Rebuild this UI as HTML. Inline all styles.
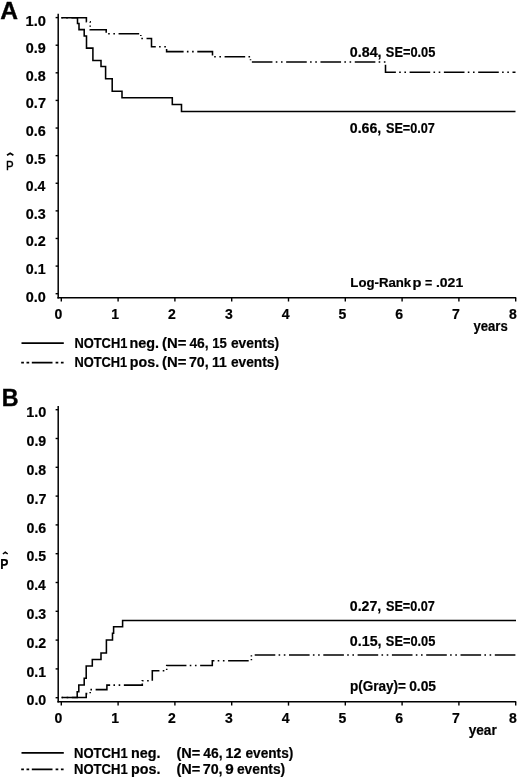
<!DOCTYPE html>
<html><head><meta charset="utf-8"><style>
html,body{margin:0;padding:0;background:#fff;}
body{width:520px;height:778px;overflow:hidden;}
svg{display:block;font-family:"Liberation Sans",sans-serif;will-change:transform;}
</style></head><body>
<svg width="520" height="778" viewBox="0 0 520 778">
<rect width="520" height="778" fill="#fff"/>
<g>
<line x1="58.2" y1="13.8" x2="58.2" y2="298.4" stroke="#000" stroke-width="1.5"/>
<line x1="57.400000000000006" y1="297.7" x2="516.2" y2="297.7" stroke="#000" stroke-width="1.5"/>
<line x1="55.6" y1="17.60" x2="58.2" y2="17.60" stroke="#000" stroke-width="1.4"/>
<text x="25.47" y="25.5" font-size="14" font-weight="bold" text-anchor="start" textLength="20.43" lengthAdjust="spacingAndGlyphs" stroke="#000" stroke-width="0.2">1.0</text>
<line x1="55.6" y1="45.21" x2="58.2" y2="45.21" stroke="#000" stroke-width="1.4"/>
<text x="25.83" y="53.11" font-size="14" font-weight="bold" text-anchor="start" textLength="20.0" lengthAdjust="spacingAndGlyphs" stroke="#000" stroke-width="0.2">0.9</text>
<line x1="55.6" y1="72.82" x2="58.2" y2="72.82" stroke="#000" stroke-width="1.4"/>
<text x="25.83" y="80.72" font-size="14" font-weight="bold" text-anchor="start" textLength="19.91" lengthAdjust="spacingAndGlyphs" stroke="#000" stroke-width="0.2">0.8</text>
<line x1="55.6" y1="100.43" x2="58.2" y2="100.43" stroke="#000" stroke-width="1.4"/>
<text x="25.83" y="108.33" font-size="14" font-weight="bold" text-anchor="start" textLength="20.11" lengthAdjust="spacingAndGlyphs" stroke="#000" stroke-width="0.2">0.7</text>
<line x1="55.6" y1="128.04" x2="58.2" y2="128.04" stroke="#000" stroke-width="1.4"/>
<text x="25.83" y="135.94" font-size="14" font-weight="bold" text-anchor="start" textLength="19.99" lengthAdjust="spacingAndGlyphs" stroke="#000" stroke-width="0.2">0.6</text>
<line x1="55.6" y1="155.65" x2="58.2" y2="155.65" stroke="#000" stroke-width="1.4"/>
<text x="25.83" y="163.55" font-size="14" font-weight="bold" text-anchor="start" textLength="19.86" lengthAdjust="spacingAndGlyphs" stroke="#000" stroke-width="0.2">0.5</text>
<line x1="55.6" y1="183.26" x2="58.2" y2="183.26" stroke="#000" stroke-width="1.4"/>
<text x="25.84" y="191.16" font-size="14" font-weight="bold" text-anchor="start" textLength="19.53" lengthAdjust="spacingAndGlyphs" stroke="#000" stroke-width="0.2">0.4</text>
<line x1="55.6" y1="210.87" x2="58.2" y2="210.87" stroke="#000" stroke-width="1.4"/>
<text x="25.83" y="218.77" font-size="14" font-weight="bold" text-anchor="start" textLength="19.99" lengthAdjust="spacingAndGlyphs" stroke="#000" stroke-width="0.2">0.3</text>
<line x1="55.6" y1="238.48" x2="58.2" y2="238.48" stroke="#000" stroke-width="1.4"/>
<text x="25.83" y="246.38" font-size="14" font-weight="bold" text-anchor="start" textLength="20.05" lengthAdjust="spacingAndGlyphs" stroke="#000" stroke-width="0.2">0.2</text>
<line x1="55.6" y1="266.09" x2="58.2" y2="266.09" stroke="#000" stroke-width="1.4"/>
<text x="25.83" y="273.99" font-size="14" font-weight="bold" text-anchor="start" textLength="19.86" lengthAdjust="spacingAndGlyphs" stroke="#000" stroke-width="0.2">0.1</text>
<line x1="55.6" y1="293.70" x2="58.2" y2="293.70" stroke="#000" stroke-width="1.4"/>
<text x="25.83" y="301.6" font-size="14" font-weight="bold" text-anchor="start" textLength="20.06" lengthAdjust="spacingAndGlyphs" stroke="#000" stroke-width="0.2">0.0</text>
<line x1="61.30" y1="297.7" x2="61.30" y2="301.5" stroke="#000" stroke-width="1.4"/>
<text x="62.30" y="319.10" font-size="14" font-weight="bold" text-anchor="end" stroke="#000" stroke-width="0.2">0</text>
<line x1="118.10" y1="297.7" x2="118.10" y2="301.5" stroke="#000" stroke-width="1.4"/>
<text x="119.10" y="319.10" font-size="14" font-weight="bold" text-anchor="end" stroke="#000" stroke-width="0.2">1</text>
<line x1="174.90" y1="297.7" x2="174.90" y2="301.5" stroke="#000" stroke-width="1.4"/>
<text x="175.90" y="319.10" font-size="14" font-weight="bold" text-anchor="end" stroke="#000" stroke-width="0.2">2</text>
<line x1="231.70" y1="297.7" x2="231.70" y2="301.5" stroke="#000" stroke-width="1.4"/>
<text x="232.70" y="319.10" font-size="14" font-weight="bold" text-anchor="end" stroke="#000" stroke-width="0.2">3</text>
<line x1="288.50" y1="297.7" x2="288.50" y2="301.5" stroke="#000" stroke-width="1.4"/>
<text x="289.50" y="319.10" font-size="14" font-weight="bold" text-anchor="end" stroke="#000" stroke-width="0.2">4</text>
<line x1="345.30" y1="297.7" x2="345.30" y2="301.5" stroke="#000" stroke-width="1.4"/>
<text x="346.30" y="319.10" font-size="14" font-weight="bold" text-anchor="end" stroke="#000" stroke-width="0.2">5</text>
<line x1="402.10" y1="297.7" x2="402.10" y2="301.5" stroke="#000" stroke-width="1.4"/>
<text x="403.10" y="319.10" font-size="14" font-weight="bold" text-anchor="end" stroke="#000" stroke-width="0.2">6</text>
<line x1="458.90" y1="297.7" x2="458.90" y2="301.5" stroke="#000" stroke-width="1.4"/>
<text x="459.90" y="319.10" font-size="14" font-weight="bold" text-anchor="end" stroke="#000" stroke-width="0.2">7</text>
<line x1="515.70" y1="297.7" x2="515.70" y2="301.5" stroke="#000" stroke-width="1.4"/>
<text x="516.70" y="319.10" font-size="14" font-weight="bold" text-anchor="end" stroke="#000" stroke-width="0.2">8</text>
<text x="0.29" y="18.6" font-size="24.8" font-weight="bold" text-anchor="start" textLength="17.76" lengthAdjust="spacingAndGlyphs" stroke="#000" stroke-width="0.4">A</text>
<text x="6.06" y="169.6" font-size="13.3" font-weight="normal" text-anchor="start" textLength="7.64" lengthAdjust="spacingAndGlyphs" stroke="#000" stroke-width="0.4">P</text>
<path d="M7.0 155.3 L10.2 153.3 L13.4 155.3" fill="none" stroke="#000" stroke-width="1.6"/>
<path d="M61.40 17.80 L77.50 17.80 L77.50 23.50 L79.00 23.50 L79.00 29.60 L84.20 29.60 L84.20 36.00 L86.50 36.00 L86.50 48.10 L92.90 48.10 L92.90 60.50 L101.00 60.50 L101.00 66.50 L105.60 66.50 L105.60 78.70 L112.20 78.70 L112.20 91.30 L122.00 91.30 L122.00 97.80 L172.30 97.80 L172.30 104.50 L181.50 104.50 L181.50 111.45 L515.50 111.45" fill="none" stroke="#000" stroke-width="1.55"/>
<path d="M61.40 17.80L62.63 17.80M66.23 17.80L67.83 17.80M71.43 17.80L86.40 17.80L86.40 21.70L86.76 21.70M90.06 21.70L90.20 21.70L90.20 22.79M90.20 25.45L90.20 26.64M90.20 29.30L90.20 29.80L106.20 29.80L106.20 32.71M108.16 33.70L109.76 33.70M113.36 33.70L114.96 33.70M118.56 33.70L139.16 33.70M140.80 34.93L140.80 36.12M141.32 38.40L142.92 38.40M146.52 38.40L151.50 38.40L151.50 46.80L155.78 46.80M159.08 46.80L160.68 46.80M164.28 46.80L165.88 46.80M166.60 48.93L166.60 51.60L183.60 51.60M186.90 51.60L188.50 51.60M192.10 51.60L193.70 51.60M197.30 51.60L212.50 51.60L212.50 55.60M214.18 56.80L215.78 56.80M219.38 56.80L220.98 56.80M224.58 56.80L245.18 56.80M248.48 56.80L250.08 56.80M250.50 59.16L250.50 60.34M251.86 62.00L272.46 62.00M275.76 62.00L277.36 62.00M280.96 62.00L282.56 62.00M286.16 62.00L306.76 62.00M310.06 62.00L311.66 62.00M315.26 62.00L316.86 62.00M320.46 62.00L341.06 62.00M344.36 62.00L345.96 62.00M349.56 62.00L351.16 62.00M354.76 62.00L375.36 62.00M378.66 62.00L380.26 62.00M383.86 62.00L385.46 62.00M385.50 64.64L385.50 72.20L395.89 72.20M399.19 72.20L400.79 72.20M404.39 72.20L405.99 72.20M409.59 72.20L430.19 72.20M433.49 72.20L435.09 72.20M438.69 72.20L440.29 72.20M443.89 72.20L464.49 72.20M467.79 72.20L469.39 72.20M472.99 72.20L474.59 72.20M478.19 72.20L498.79 72.20M502.09 72.20L503.69 72.20M507.29 72.20L508.89 72.20M512.49 72.20L515.50 72.20" fill="none" stroke="#000" stroke-width="1.55"/>
<text x="349.84" y="56.5" font-size="14" font-weight="bold" text-anchor="start" textLength="31.72" lengthAdjust="spacingAndGlyphs" stroke="#000" stroke-width="0.2">0.84,</text>
<text x="385.83" y="56.5" font-size="14" font-weight="bold" text-anchor="start" textLength="49.53" lengthAdjust="spacingAndGlyphs" stroke="#000" stroke-width="0.2">SE=0.05</text>
<text x="349.84" y="132.6" font-size="14" font-weight="bold" text-anchor="start" textLength="31.4" lengthAdjust="spacingAndGlyphs" stroke="#000" stroke-width="0.2">0.66,</text>
<text x="385.94" y="132.6" font-size="14" font-weight="bold" text-anchor="start" textLength="48.92" lengthAdjust="spacingAndGlyphs" stroke="#000" stroke-width="0.2">SE=0.07</text>
<text x="350.32" y="286.9" font-size="13.2" font-weight="bold" text-anchor="start" textLength="60.87" lengthAdjust="spacingAndGlyphs" stroke="#000" stroke-width="0.2">Log-Rank</text>
<text x="412.63" y="286.9" font-size="13.2" font-weight="bold" text-anchor="start" textLength="8.97" lengthAdjust="spacingAndGlyphs" stroke="#000" stroke-width="0.2">p</text>
<text x="425.09" y="286.9" font-size="13.2" font-weight="bold" text-anchor="start" textLength="7.22" lengthAdjust="spacingAndGlyphs" stroke="#000" stroke-width="0.2">=</text>
<text x="435.95" y="286.9" font-size="13.6" font-weight="bold" text-anchor="start" textLength="27.24" lengthAdjust="spacingAndGlyphs" stroke="#000" stroke-width="0.2">.021</text>
<line x1="21.5" y1="343.2" x2="63.8" y2="343.2" stroke="#000" stroke-width="1.75"/>
<line x1="21.2" y1="362.6" x2="64" y2="362.6" stroke="#000" stroke-width="1.8" stroke-dasharray="2.7 2.6 2.7 2.6 20.7 3.1 2.7 2.6 2.7 60"/>
<text x="74.44" y="347.7" font-size="14" font-weight="bold" text-anchor="start" textLength="52.92" lengthAdjust="spacingAndGlyphs" stroke="#000" stroke-width="0.2">NOTCH1</text>
<text x="129.55" y="347.7" font-size="14" font-weight="bold" text-anchor="start" textLength="29.54" lengthAdjust="spacingAndGlyphs" stroke="#000" stroke-width="0.2">neg.</text>
<text x="162.06" y="347.7" font-size="14" font-weight="bold" text-anchor="start" textLength="24.35" lengthAdjust="spacingAndGlyphs" stroke="#000" stroke-width="0.2">(N=</text>
<text x="189.39" y="347.7" font-size="14" font-weight="bold" text-anchor="start" textLength="19.24" lengthAdjust="spacingAndGlyphs" stroke="#000" stroke-width="0.2">46,</text>
<text x="212.27" y="347.7" font-size="14" font-weight="bold" text-anchor="start" textLength="14.59" lengthAdjust="spacingAndGlyphs" stroke="#000" stroke-width="0.2">15</text>
<text x="230.96" y="347.7" font-size="14" font-weight="bold" text-anchor="start" textLength="48.22" lengthAdjust="spacingAndGlyphs" stroke="#000" stroke-width="0.2">events)</text>
<text x="74.54" y="366.9" font-size="14" font-weight="bold" text-anchor="start" textLength="52.71" lengthAdjust="spacingAndGlyphs" stroke="#000" stroke-width="0.2">NOTCH1</text>
<text x="129.86" y="366.9" font-size="14" font-weight="bold" text-anchor="start" textLength="29.22" lengthAdjust="spacingAndGlyphs" stroke="#000" stroke-width="0.2">pos.</text>
<text x="162.06" y="366.9" font-size="14" font-weight="bold" text-anchor="start" textLength="24.35" lengthAdjust="spacingAndGlyphs" stroke="#000" stroke-width="0.2">(N=</text>
<text x="188.99" y="366.9" font-size="14" font-weight="bold" text-anchor="start" textLength="19.65" lengthAdjust="spacingAndGlyphs" stroke="#000" stroke-width="0.2">70,</text>
<text x="212.06" y="366.9" font-size="14" font-weight="bold" text-anchor="start" textLength="14.81" lengthAdjust="spacingAndGlyphs" stroke="#000" stroke-width="0.2">11</text>
<text x="230.96" y="366.9" font-size="14" font-weight="bold" text-anchor="start" textLength="48.02" lengthAdjust="spacingAndGlyphs" stroke="#000" stroke-width="0.2">events)</text>
<text x="473.5" y="331.4" font-size="14" font-weight="bold" text-anchor="start" textLength="34.24" lengthAdjust="spacingAndGlyphs" stroke="#000" stroke-width="0.2">years</text>
</g>
<line x1="58.2" y1="405.9" x2="58.2" y2="702.5" stroke="#000" stroke-width="1.5"/>
<line x1="57.400000000000006" y1="701.8" x2="516.2" y2="701.8" stroke="#000" stroke-width="1.5"/>
<line x1="55.6" y1="409.70" x2="58.2" y2="409.70" stroke="#000" stroke-width="1.4"/>
<text x="26.19" y="417.3" font-size="14" font-weight="bold" text-anchor="start" textLength="20.1" lengthAdjust="spacingAndGlyphs" stroke="#000" stroke-width="0.2">1.0</text>
<line x1="55.6" y1="438.50" x2="58.2" y2="438.50" stroke="#000" stroke-width="1.4"/>
<text x="26.54" y="446.1" font-size="14" font-weight="bold" text-anchor="start" textLength="19.69" lengthAdjust="spacingAndGlyphs" stroke="#000" stroke-width="0.2">0.9</text>
<line x1="55.6" y1="467.30" x2="58.2" y2="467.30" stroke="#000" stroke-width="1.4"/>
<text x="26.54" y="474.9" font-size="14" font-weight="bold" text-anchor="start" textLength="19.59" lengthAdjust="spacingAndGlyphs" stroke="#000" stroke-width="0.2">0.8</text>
<line x1="55.6" y1="496.10" x2="58.2" y2="496.10" stroke="#000" stroke-width="1.4"/>
<text x="26.54" y="503.7" font-size="14" font-weight="bold" text-anchor="start" textLength="19.79" lengthAdjust="spacingAndGlyphs" stroke="#000" stroke-width="0.2">0.7</text>
<line x1="55.6" y1="524.90" x2="58.2" y2="524.90" stroke="#000" stroke-width="1.4"/>
<text x="26.54" y="532.5" font-size="14" font-weight="bold" text-anchor="start" textLength="19.67" lengthAdjust="spacingAndGlyphs" stroke="#000" stroke-width="0.2">0.6</text>
<line x1="55.6" y1="553.70" x2="58.2" y2="553.70" stroke="#000" stroke-width="1.4"/>
<text x="26.54" y="561.3" font-size="14" font-weight="bold" text-anchor="start" textLength="19.55" lengthAdjust="spacingAndGlyphs" stroke="#000" stroke-width="0.2">0.5</text>
<line x1="55.6" y1="582.50" x2="58.2" y2="582.50" stroke="#000" stroke-width="1.4"/>
<text x="26.55" y="590.1" font-size="14" font-weight="bold" text-anchor="start" textLength="19.22" lengthAdjust="spacingAndGlyphs" stroke="#000" stroke-width="0.2">0.4</text>
<line x1="55.6" y1="611.30" x2="58.2" y2="611.30" stroke="#000" stroke-width="1.4"/>
<text x="26.54" y="618.9" font-size="14" font-weight="bold" text-anchor="start" textLength="19.67" lengthAdjust="spacingAndGlyphs" stroke="#000" stroke-width="0.2">0.3</text>
<line x1="55.6" y1="640.10" x2="58.2" y2="640.10" stroke="#000" stroke-width="1.4"/>
<text x="26.54" y="647.7" font-size="14" font-weight="bold" text-anchor="start" textLength="19.73" lengthAdjust="spacingAndGlyphs" stroke="#000" stroke-width="0.2">0.2</text>
<line x1="55.6" y1="668.90" x2="58.2" y2="668.90" stroke="#000" stroke-width="1.4"/>
<text x="26.54" y="676.5" font-size="14" font-weight="bold" text-anchor="start" textLength="19.55" lengthAdjust="spacingAndGlyphs" stroke="#000" stroke-width="0.2">0.1</text>
<line x1="55.6" y1="697.70" x2="58.2" y2="697.70" stroke="#000" stroke-width="1.4"/>
<text x="26.54" y="705.3" font-size="14" font-weight="bold" text-anchor="start" textLength="19.74" lengthAdjust="spacingAndGlyphs" stroke="#000" stroke-width="0.2">0.0</text>
<line x1="61.30" y1="701.8" x2="61.30" y2="705.5999999999999" stroke="#000" stroke-width="1.4"/>
<text x="62.30" y="723.00" font-size="14" font-weight="bold" text-anchor="end" stroke="#000" stroke-width="0.2">0</text>
<line x1="118.10" y1="701.8" x2="118.10" y2="705.5999999999999" stroke="#000" stroke-width="1.4"/>
<text x="119.10" y="723.00" font-size="14" font-weight="bold" text-anchor="end" stroke="#000" stroke-width="0.2">1</text>
<line x1="174.90" y1="701.8" x2="174.90" y2="705.5999999999999" stroke="#000" stroke-width="1.4"/>
<text x="175.90" y="723.00" font-size="14" font-weight="bold" text-anchor="end" stroke="#000" stroke-width="0.2">2</text>
<line x1="231.70" y1="701.8" x2="231.70" y2="705.5999999999999" stroke="#000" stroke-width="1.4"/>
<text x="232.70" y="723.00" font-size="14" font-weight="bold" text-anchor="end" stroke="#000" stroke-width="0.2">3</text>
<line x1="288.50" y1="701.8" x2="288.50" y2="705.5999999999999" stroke="#000" stroke-width="1.4"/>
<text x="289.50" y="723.00" font-size="14" font-weight="bold" text-anchor="end" stroke="#000" stroke-width="0.2">4</text>
<line x1="345.30" y1="701.8" x2="345.30" y2="705.5999999999999" stroke="#000" stroke-width="1.4"/>
<text x="346.30" y="723.00" font-size="14" font-weight="bold" text-anchor="end" stroke="#000" stroke-width="0.2">5</text>
<line x1="402.10" y1="701.8" x2="402.10" y2="705.5999999999999" stroke="#000" stroke-width="1.4"/>
<text x="403.10" y="723.00" font-size="14" font-weight="bold" text-anchor="end" stroke="#000" stroke-width="0.2">6</text>
<line x1="458.90" y1="701.8" x2="458.90" y2="705.5999999999999" stroke="#000" stroke-width="1.4"/>
<text x="459.90" y="723.00" font-size="14" font-weight="bold" text-anchor="end" stroke="#000" stroke-width="0.2">7</text>
<line x1="515.70" y1="701.8" x2="515.70" y2="705.5999999999999" stroke="#000" stroke-width="1.4"/>
<text x="516.70" y="723.00" font-size="14" font-weight="bold" text-anchor="end" stroke="#000" stroke-width="0.2">8</text>
<text x="1.84" y="406.2" font-size="24.3" font-weight="bold" text-anchor="start" textLength="16.81" lengthAdjust="spacingAndGlyphs" stroke="#000" stroke-width="0.4">B</text>
<text x="0.18" y="569.0" font-size="14.3" font-weight="bold" text-anchor="start" textLength="8.13" lengthAdjust="spacingAndGlyphs" stroke="#000" stroke-width="0.2">P</text>
<path d="M2.9 554 L5.3 552.1 L7.7 554" fill="none" stroke="#000" stroke-width="1.5"/>
<path d="M61.60 697.40 L77.20 697.40 L77.20 691.70 L78.80 691.70 L78.80 685.00 L84.20 685.00 L84.20 678.30 L86.20 678.30 L86.20 665.90 L92.30 665.90 L92.30 659.40 L101.00 659.40 L101.00 653.00 L106.40 653.00 L106.40 639.90 L112.50 639.90 L112.50 633.20 L113.60 633.20 L113.60 626.80 L122.60 626.80 L122.60 620.40 L516.00 620.40" fill="none" stroke="#000" stroke-width="1.55"/>
<path d="M61.60 697.40L63.04 697.40M66.64 697.40L68.24 697.40M71.84 697.40L86.20 697.40L86.20 693.60L87.31 693.60M90.20 693.30L90.20 692.11M90.41 689.60L92.01 689.60M95.61 689.60L106.90 689.60L106.90 685.10L110.14 685.10M113.44 685.10L115.04 685.10M118.64 685.10L120.24 685.10M123.84 685.10L142.30 685.10L142.30 683.52M142.30 681.07L142.30 680.80L143.53 680.80M147.13 680.80L148.73 680.80M152.30 680.78L152.30 670.80L159.43 670.80M162.73 670.80L164.33 670.80M166.70 669.89L166.70 668.70M166.70 666.04L166.70 665.40L186.44 665.40M189.74 665.40L191.34 665.40M194.94 665.40L196.54 665.40M200.14 665.40L212.30 665.40L212.30 660.70L214.40 660.70M217.70 660.70L219.30 660.70M222.90 660.70L224.50 660.70M228.10 660.70L248.70 660.70M251.40 660.26L251.40 659.07M251.40 656.41L251.40 655.22M254.70 655.00L275.30 655.00M278.60 655.00L280.20 655.00M283.80 655.00L285.40 655.00M289.00 655.00L309.60 655.00M312.90 655.00L314.50 655.00M318.10 655.00L319.70 655.00M323.30 655.00L343.90 655.00M347.20 655.00L348.80 655.00M352.40 655.00L354.00 655.00M357.60 655.00L378.20 655.00M381.50 655.00L383.10 655.00M386.70 655.00L388.30 655.00M391.90 655.00L412.50 655.00M415.80 655.00L417.40 655.00M421.00 655.00L422.60 655.00M426.20 655.00L446.80 655.00M450.10 655.00L451.70 655.00M455.30 655.00L456.90 655.00M460.50 655.00L481.10 655.00M484.40 655.00L486.00 655.00M489.60 655.00L491.20 655.00M494.80 655.00L515.40 655.00" fill="none" stroke="#000" stroke-width="1.55"/>
<text x="349.84" y="610.7" font-size="14" font-weight="bold" text-anchor="start" textLength="31.4" lengthAdjust="spacingAndGlyphs" stroke="#000" stroke-width="0.2">0.27,</text>
<text x="385.94" y="610.7" font-size="14" font-weight="bold" text-anchor="start" textLength="48.92" lengthAdjust="spacingAndGlyphs" stroke="#000" stroke-width="0.2">SE=0.07</text>
<text x="349.84" y="646.3" font-size="14" font-weight="bold" text-anchor="start" textLength="31.72" lengthAdjust="spacingAndGlyphs" stroke="#000" stroke-width="0.2">0.15,</text>
<text x="385.83" y="646.3" font-size="14" font-weight="bold" text-anchor="start" textLength="49.53" lengthAdjust="spacingAndGlyphs" stroke="#000" stroke-width="0.2">SE=0.05</text>
<text x="349.91" y="690.7" font-size="14" font-weight="bold" text-anchor="start" textLength="56.05" lengthAdjust="spacingAndGlyphs" stroke="#000" stroke-width="0.2">p(Gray)=</text>
<text x="409.15" y="690.7" font-size="14" font-weight="bold" text-anchor="start" textLength="26.93" lengthAdjust="spacingAndGlyphs" stroke="#000" stroke-width="0.2">0.05</text>
<line x1="21.5" y1="752.9" x2="63.8" y2="752.9" stroke="#000" stroke-width="1.75"/>
<line x1="21.2" y1="769.3" x2="64" y2="769.3" stroke="#000" stroke-width="1.8" stroke-dasharray="2.7 2.6 2.7 2.6 20.7 3.1 2.7 2.6 2.7 60"/>
<text x="74.03" y="758.1" font-size="14" font-weight="bold" text-anchor="start" textLength="53.64" lengthAdjust="spacingAndGlyphs" stroke="#000" stroke-width="0.2">NOTCH1</text>
<text x="130.96" y="758.1" font-size="14" font-weight="bold" text-anchor="start" textLength="29.43" lengthAdjust="spacingAndGlyphs" stroke="#000" stroke-width="0.2">neg.</text>
<text x="176.48" y="758.1" font-size="14" font-weight="bold" text-anchor="start" textLength="23.82" lengthAdjust="spacingAndGlyphs" stroke="#000" stroke-width="0.2">(N=</text>
<text x="203.29" y="758.1" font-size="14" font-weight="bold" text-anchor="start" textLength="19.24" lengthAdjust="spacingAndGlyphs" stroke="#000" stroke-width="0.2">46,</text>
<text x="225.5" y="758.1" font-size="14" font-weight="bold" text-anchor="start" textLength="15.98" lengthAdjust="spacingAndGlyphs" stroke="#000" stroke-width="0.2">12</text>
<text x="245.47" y="758.1" font-size="14" font-weight="bold" text-anchor="start" textLength="47.81" lengthAdjust="spacingAndGlyphs" stroke="#000" stroke-width="0.2">events)</text>
<text x="74.03" y="774.3" font-size="14" font-weight="bold" text-anchor="start" textLength="53.64" lengthAdjust="spacingAndGlyphs" stroke="#000" stroke-width="0.2">NOTCH1</text>
<text x="130.96" y="774.3" font-size="14" font-weight="bold" text-anchor="start" textLength="29.43" lengthAdjust="spacingAndGlyphs" stroke="#000" stroke-width="0.2">pos.</text>
<text x="176.48" y="774.3" font-size="14" font-weight="bold" text-anchor="start" textLength="23.82" lengthAdjust="spacingAndGlyphs" stroke="#000" stroke-width="0.2">(N=</text>
<text x="202.69" y="774.3" font-size="14" font-weight="bold" text-anchor="start" textLength="19.87" lengthAdjust="spacingAndGlyphs" stroke="#000" stroke-width="0.2">70,</text>
<text x="225.27" y="774.3" font-size="14" font-weight="bold" text-anchor="start" textLength="8.5" lengthAdjust="spacingAndGlyphs" stroke="#000" stroke-width="0.2">9</text>
<text x="236.96" y="774.3" font-size="14" font-weight="bold" text-anchor="start" textLength="48.22" lengthAdjust="spacingAndGlyphs" stroke="#000" stroke-width="0.2">events)</text>
<text x="468.69" y="735.3" font-size="14" font-weight="bold" text-anchor="start" textLength="28.01" lengthAdjust="spacingAndGlyphs" stroke="#000" stroke-width="0.2">year</text>
</svg>
</body></html>
